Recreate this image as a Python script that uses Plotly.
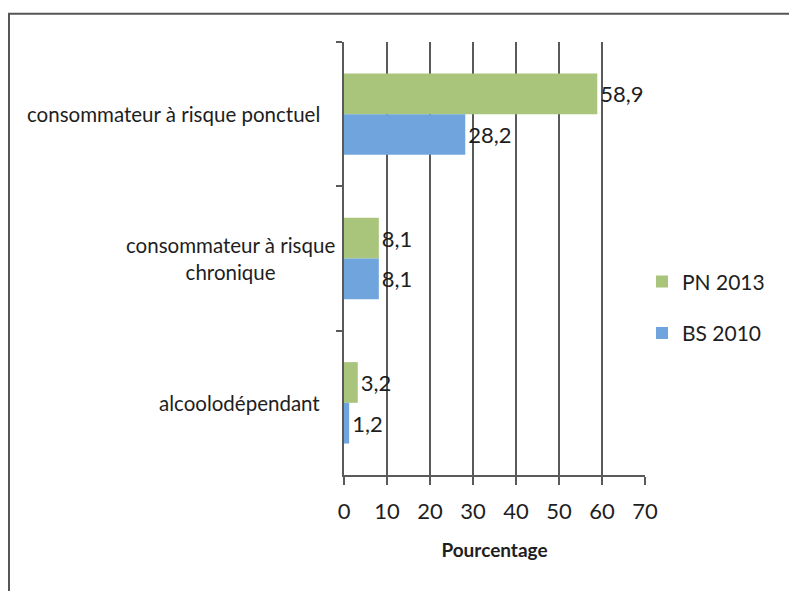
import plotly.graph_objects as go

categories = ["consommateur à risque ponctuel",
              "consommateur à risque<br>chronique",
              "alcoolodépendant"]
series_names = ["PN 2013", "BS 2010"]
pn2013 = [58.9, 8.1, 3.2]
bs2010 = [28.2, 8.1, 1.2]
x_ticks = [0, 10, 20, 30, 40, 50, 60, 70]
x_title = "Pourcentage"

colors = ["#a9c47b", "#6fa5dc"]
FONT = "Lato, Carlito, Calibri, Liberation Sans, sans-serif"
TXT = "#1e1e1e"

def fmt(v):
    return f"{v:.1f}".replace(".", ",")

fig = go.Figure()
for name, vals, col in zip(series_names, [pn2013, bs2010], colors):
    fig.add_trace(go.Bar(
        y=categories, x=vals, orientation="h", name=name,
        marker=dict(color=col, line=dict(width=0)),
        text=[fmt(v) for v in vals], textposition="outside",
        textfont=dict(family=FONT, size=22, color=TXT),
        cliponaxis=False, legendgroup=name,
    ))

for i, c in enumerate(categories):
    fig.add_annotation(
        x=0, y=c, xref="paper", yref="y", xanchor="right", yanchor="middle",
        xshift=-7 if "<br>" in c else -22, align="center",
        text=c, showarrow=False,
        font=dict(family=FONT, size=20.5, color=TXT),
    )

# outer frame
fig.add_shape(type="rect", xref="paper", yref="paper",
              x0=-1.113, x1=1.7, y0=-0.4, y1=1.065,
              line=dict(color="#555555", width=2), layer="below")

fig.update_layout(
    width=797, height=591,
    margin=dict(l=336, r=160, t=34, b=124),
    paper_bgcolor="white", plot_bgcolor="white",
    barmode="group", bargap=0.436, bargroupgap=0,
    separators=", ",
    showlegend=True,
    legend=dict(x=0.99, y=0.387, xanchor="left", yanchor="middle",
                traceorder="grouped", tracegroupgap=21,
                font=dict(family=FONT, size=21, color=TXT),
                itemwidth=30, bgcolor="rgba(0,0,0,0)"),
    font=dict(family=FONT, color=TXT),
)
fig.update_xaxes(
    range=[0, 70], tickvals=x_ticks, ticktext=[str(t) for t in x_ticks],
    showgrid=True, gridcolor="#5a5a5a", gridwidth=2,
    showline=True, linecolor="#5a5a5a", linewidth=2,
    ticks="outside", ticklen=8, tickwidth=2, tickcolor="#5a5a5a",
    ticklabelstandoff=8,
    tickfont=dict(family=FONT, size=22, color=TXT),
    title=dict(text="<b>" + x_title + "</b>", standoff=20,
               font=dict(family=FONT, size=19, color=TXT)),
    zeroline=False, fixedrange=True,
)
fig.update_yaxes(
    autorange="reversed", showticklabels=False,
    showline=True, linecolor="#5a5a5a", linewidth=2,
    ticks="outside", tickson="boundaries", ticklen=6, tickwidth=2,
    tickcolor="#5a5a5a", showgrid=False, zeroline=False,
)

fig.write_html("out.html")
